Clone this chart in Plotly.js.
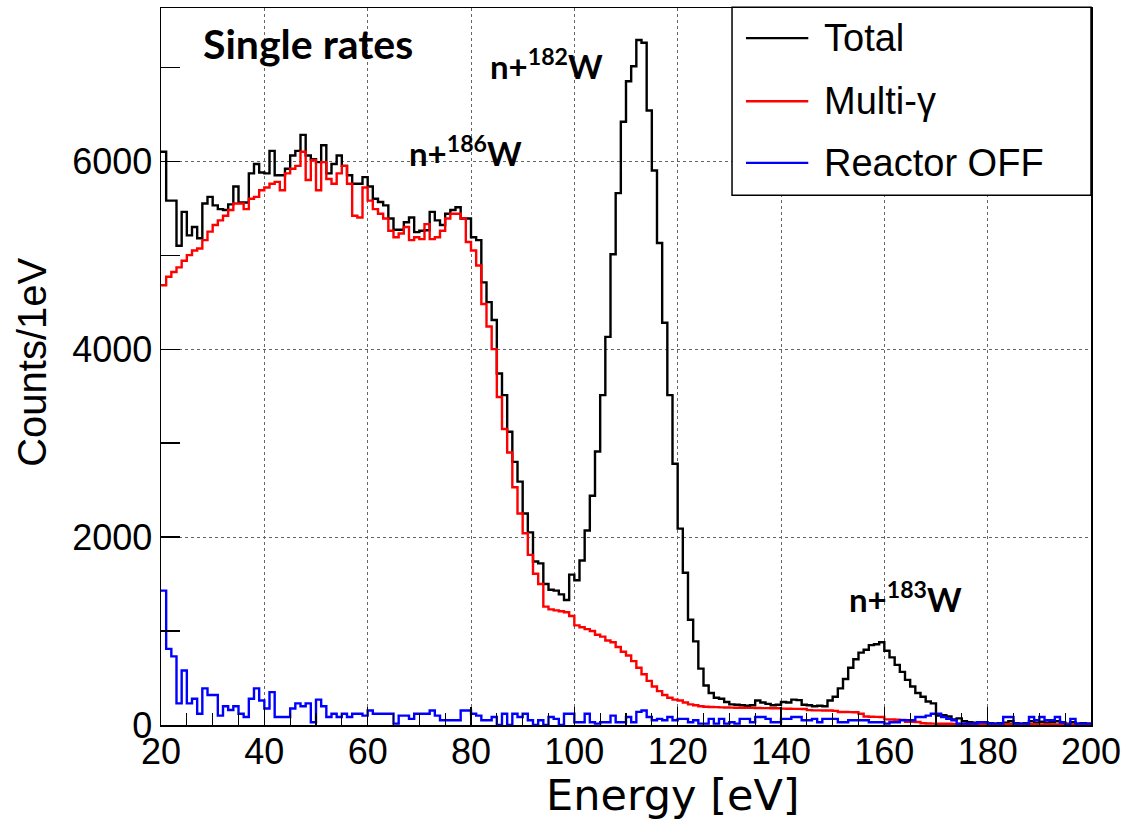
<!DOCTYPE html>
<html>
<head>
<meta charset="utf-8">
<script src="https://cdn.plot.ly/plotly-3.0.1.min.js"></script>
<style>
html,body{margin:0;padding:0;background:#fff;}
#chart{width:1130px;height:819px;}
</style>
</head>
<body>
<div id="chart"></div>
<script>
// Bin left edges (1 eV bins, 20..199 eV)
const binStart = 20;
const binWidth = 1;

const totalCounts = [
  6100,5580,5580,5100,5460,5210,5300,5180,5550,5620,
  5530,5490,5480,5540,5730,5560,5560,5870,5970,5880,
  5870,6110,5850,5850,5920,6060,6110,6280,6060,6020,
  5990,6170,5870,5970,6060,5950,5850,5760,5760,5830,
  5730,5600,5565,5530,5390,5270,5270,5350,5400,5245,
  5260,5265,5460,5370,5320,5440,5480,5510,5390,5390,
  5190,5160,4710,4500,4310,3740,3510,3120,2800,2590,
  2250,2050,1740,1720,1500,1440,1430,1390,1330,1600,
  1540,1750,2070,2440,2910,3510,4130,5010,5660,6420,
  6850,7010,7290,7260,6540,5900,5130,4280,3510,2780,
  2090,1620,1120,890,600,420,340,290,280,245,
  220,215,210,205,210,260,240,225,210,215,
  245,240,270,265,215,210,200,205,200,260,
  300,390,490,610,700,770,800,850,860,880,
  790,720,640,565,480,410,340,300,250,230,
  100,105,90,60,70,40,30,25,30,20,
  20,15,20,25,40,20,15,20,40,25,
  35,25,30,40,20,15,30,15,20,15
];

const multiGammaCounts = [
  4680,4770,4820,4870,4940,5000,5050,5070,5160,5250,
  5320,5370,5420,5480,5550,5550,5490,5600,5620,5690,
  5720,5760,5780,5690,5870,5920,5950,6100,5800,6010,
  5690,5990,5810,5760,5870,5950,5760,5420,5400,5720,
  5580,5490,5440,5390,5260,5190,5230,5300,5160,5190,
  5170,5330,5170,5190,5260,5390,5440,5440,5390,5140,
  5050,4890,4480,4240,4000,3490,3150,2900,2530,2250,
  2040,1810,1610,1500,1260,1230,1220,1210,1200,1160,
  1060,1040,1020,1000,960,940,900,880,830,780,
  740,680,610,540,470,410,360,320,290,270,
  260,240,220,210,200,195,192,190,188,186,
  185,184,183,182,182,181,180,180,179,178,
  174,173,172,172,170,158,156,156,155,155,
  150,138,138,137,135,120,90,88,86,85,
  60,58,56,55,35,33,32,18,16,15,
  14,14,13,12,12,11,11,10,10,10,
  9,9,9,9,8,8,8,8,8,7,
  7,7,7,7,6,6,6,6,6,6
];

const reactorOffCounts = [
  1430,810,730,230,580,230,280,120,390,320,
  320,100,200,160,200,120,85,280,390,260,
  175,350,85,85,85,175,230,200,230,30,
  270,200,85,120,85,120,85,120,120,100,
  155,120,120,120,120,15,100,100,65,120,
  120,120,155,100,50,50,50,50,155,155,
  120,100,50,50,85,0,120,0,120,85,
  120,50,0,50,0,85,65,0,120,120,
  30,30,120,30,15,30,30,100,30,30,
  85,30,140,155,85,50,65,50,85,50,
  65,65,30,50,15,15,65,15,65,15,
  30,15,65,65,30,85,85,65,30,30,
  65,65,85,85,50,50,65,30,65,65,
  65,30,30,50,50,50,50,30,30,30,
  15,30,30,50,50,50,85,85,100,120,
  120,85,65,50,15,15,15,15,30,30,
  15,15,15,85,85,15,15,15,85,50,
  85,50,50,85,30,0,65,15,15,15
];

const seriesNames = ["Total", "Multi-\u03b3", "Reactor OFF"];
const seriesColors = ["#000000", "#ff0000", "#0000ff"];
const peakLabels = ["n+<sup>186</sup>W", "n+<sup>182</sup>W", "n+<sup>183</sup>W"];
const xTickVals = [20,40,60,80,100,120,140,160,180,200];
const yTickVals = [0,2000,4000,6000];

function stepXY(vals){
  const xs = [], ys = [];
  for (let i = 0; i < vals.length; i++){
    xs.push(binStart + i*binWidth);
    ys.push(vals[i]);
  }
  xs.push(binStart + vals.length*binWidth);
  ys.push(vals[vals.length-1]);
  return {xs, ys};
}

const allSeries = [totalCounts, multiGammaCounts, reactorOffCounts];
const traces = allSeries.map((vals, k) => {
  const s = stepXY(vals);
  return {
    type: 'scatter', mode: 'lines', x: s.xs, y: s.ys,
    name: seriesNames[k],
    line: {shape: 'hv', color: seriesColors[k], width: 2.4},
    showlegend: false, hoverinfo: 'skip'
  };
});

const FONT = '"Liberation Sans", Arial, Helvetica, sans-serif';
const BOLD = 'Lato, "Open Sans", sans-serif';

// legend geometry (paper coords)
const legRows = [0.958, 0.870, 0.784];
const shapes = [
  {type:'rect', xref:'paper', yref:'paper', x0:0.614, x1:1.0, y0:0.739, y1:1.001,
   line:{color:'#000', width:1.5}, fillcolor:'#fff', layer:'above'}
];
const annotations = [];
seriesNames.forEach((nm, k) => {
  shapes.push({type:'line', xref:'paper', yref:'paper', x0:0.629, x1:0.696,
    y0:legRows[k], y1:legRows[k], line:{color:seriesColors[k], width:2.4}, layer:'above'});
  annotations.push({xref:'paper', yref:'paper', x:0.711, y:legRows[k], xanchor:'left', yanchor:'middle',
    text:nm, showarrow:false, font:{family:FONT, size:38, color:'#000'}});
});

annotations.push({xref:'paper', yref:'paper', x:0.158, y:0.950, xanchor:'center', yanchor:'middle',
  text:'<b>Single rates</b>', showarrow:false, font:{family:BOLD, size:41, color:'#000'}});
const peakPos = [[0.327,0.801],[0.414,0.922],[0.800,0.178]];
peakLabels.forEach((t,k)=>{
  annotations.push({xref:'paper', yref:'paper', x:peakPos[k][0], y:peakPos[k][1], xanchor:'center', yanchor:'middle',
    text:'<b>'+t+'</b>', showarrow:false, font:{family:BOLD, size:33, color:'#000'}});
});
annotations.push({xref:'paper', yref:'paper', x:0.5505, y:-0.097, xanchor:'center', yanchor:'middle',
  text:'Energy [eV]', showarrow:false, font:{family:'"DejaVu Sans", sans-serif', size:43, color:'#000'}});
annotations.push({xref:'paper', yref:'paper', x:-0.138, y:0.506, xanchor:'center', yanchor:'middle', textangle:-90,
  text:'Counts/1eV', showarrow:false, font:{family:FONT, size:40, color:'#000'}});

const layout = {
  width:1130, height:819,
  margin:{l:161, r:39, t:8, b:94},
  paper_bgcolor:'#fff', plot_bgcolor:'#fff',
  showlegend:false,
  xaxis:{range:[20,200], tickvals:xTickVals, ticks:'inside', ticklen:18, tickwidth:1.2, tickcolor:'#000',
    minor:{dtick:5, ticks:'inside', ticklen:12, tickcolor:'#000', tickwidth:1.2, showgrid:false},
    showline:true, mirror:true, linecolor:'#000', linewidth:1.5,
    showgrid:true, gridcolor:'#666', griddash:'dot', gridwidth:1,
    zeroline:false, ticklabelstandoff:-6, tickfont:{family:FONT, size:36, color:'#000'}},
  yaxis:{range:[0,7630], tickvals:yTickVals, ticks:'inside', ticklen:19, tickwidth:1.2, tickcolor:'#000',
    minor:{dtick:1000, ticks:'inside', ticklen:19, tickcolor:'#000', tickwidth:1.2, showgrid:false},
    showline:true, mirror:true, linecolor:'#000', linewidth:1.5,
    showgrid:true, gridcolor:'#666', griddash:'dot', gridwidth:1,
    zeroline:false, tickfont:{family:FONT, size:36, color:'#000'}},
  shapes: shapes,
  annotations: annotations
};

Plotly.newPlot('chart', traces, layout, {staticPlot:true, displayModeBar:false});
</script>
</body>
</html>
